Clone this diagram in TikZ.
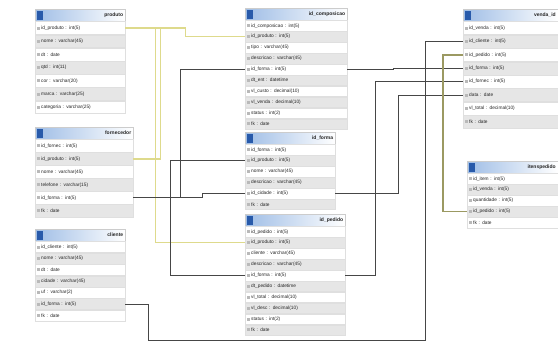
\documentclass[tikz,border=0pt]{standalone}
\usepackage{fontspec}
\setsansfont{Liberation Sans}
\usepackage{tikz}
\usetikzlibrary{positioning,calc}

\definecolor{headblue}{RGB}{160,190,230}
\definecolor{iconblue}{RGB}{40,90,170}
\definecolor{rowgray}{RGB}{230,230,230}
\definecolor{fkolive}{RGB}{222,218,140}
\definecolor{fkdark}{RGB}{70,70,70}

% table: name, x, y, width, row height, title, fields
\newcommand{\dbtable}[7]{%
  \pgfmathsetmacro{\tw}{#4-4}
  \node[tabhead, text width=\tw pt, anchor=north west] (#1) at (#2,#3) {#6};
  \foreach \fld [count=\i] in {#7} {
    \pgfmathtruncatemacro{\prv}{\i-1}
    \ifnum\i=1 \def\prevrow{#1}\else\edef\prevrow{#1-\prv}\fi
    \ifodd\i \def\rowfill{white}\else\def\rowfill{rowgray}\fi
    \node[tabrow, text width=\tw pt, minimum height=#5pt, fill=\rowfill, below=0pt of \prevrow] (#1-\i) {\hspace*{4pt}\fld};
  }
}

\begin{document}
\begin{tikzpicture}[x=1pt, y=-1pt,
    tabhead/.style={rectangle, draw=gray!40, left color=headblue, right color=white, align=right,
        font=\sffamily\bfseries\fontsize{5}{6}\selectfont, text=black!85, minimum height=12pt,
        inner xsep=2pt, inner ysep=0pt,
        path picture={\fill[iconblue] ([shift={(1.5pt,-1.5pt)}]path picture bounding box.north west) rectangle ++(6pt,-9pt);}},
    tabrow/.style={rectangle, draw=gray!25, align=left, font=\sffamily\fontsize{4.8}{5.5}\selectfont,
        text=black!85, inner xsep=2pt, inner ysep=0pt,
        path picture={\fill[gray!55] ([xshift=2pt]path picture bounding box.west) ++(0,-1.5pt) rectangle ++(3pt,3pt);}},
    fkline/.style={draw=fkdark, line width=1pt},
    fkyel/.style={draw=fkolive, line width=1.3pt}]

    \useasboundingbox[fill=white] (0,0) rectangle (558,349);
    \clip (0,0) rectangle (558,349);

    % Left column
    \dbtable{prod}{35}{9}{90}{12.8}{produto}{id\_produto : int(5), nome : varchar(45), dt : date, qtd : int(11), cor : varchar(20), marca : varchar(25), categoria : varchar(25)}
    \dbtable{forn}{35}{127}{98}{12.6}{fornecedor}{id\_fornec : int(5), id\_produto : int(5), nome : varchar(45), telefone : varchar(15), id\_forma : int(5), fk : date}
    \dbtable{cli}{35}{229}{90}{11}{cliente}{id\_cliente : int(5), nome : varchar(45), dt : date, cidade : varchar(45), uf : varchar(2), id\_forma : int(5), fk : date}

    % Middle column
    \dbtable{comp}{245}{8}{102}{10.5}{id\_composicao}{id\_composicao : int(5), id\_produto : int(5), tipo : varchar(45), descricao : varchar(45), id\_forma : int(5), dt\_ent : datetime, vl\_custo : decimal(10), vl\_venda : decimal(10), status : int(2), fk : date}
    \dbtable{forma}{245}{132}{90}{10.5}{id\_forma}{id\_forma : int(5), id\_produto : int(5), nome : varchar(45), descricao : varchar(45), id\_cidade : int(5), fk : date}
    \dbtable{ped}{245}{214}{100}{10.5}{id\_pedido}{id\_pedido : int(5), id\_produto : int(5), cliente : varchar(45), descricao : varchar(45), id\_forma : int(5), dt\_pedido : datetime, vl\_total : decimal(10), vl\_desc : decimal(10), status : int(2), fk : date}

    % Right column
    \dbtable{venda}{463}{9}{94.5}{13}{venda\_id}{id\_venda : int(5), id\_cliente : int(5), id\_pedido : int(5), id\_forma : int(5), id\_fornec : int(5), data : date, vl\_total : decimal(10), fk : date}
    \dbtable{item}{467}{161}{90.5}{10.5}{itenspedido}{id\_item : int(5), id\_venda : int(5), quantidade : int(5), id\_pedido : int(5), fk : date}

    % Connectors
    \draw[fkyel] (prod-1.east) -- ++(60,0) |- (comp-2.west);
    \draw[fkyel] (prod-1.east) -- ++(30,0) |- (ped-2.west);
    \draw[fkyel] (prod-1.east) -- ++(35,0) |- (forn-2.east);
    \draw[fkline] (forma-2.west) -- ++(-75,0) |- (ped-5.west);
    \draw[fkline] (forn-5.east) -- ++(47,0) |- (comp-5.west);
    \draw[fkline] (forn-5.east) -- ++(69,0) |- (forma-5.west);
    \draw[fkline] (forn-5.east) -- ++(37,0) |- (ped-5.west);
    \draw[fkline] (comp-5.east) -- ++(46,0) |- (venda-4.west);
    \draw[fkline] (ped-5.east) -- ++(30,0) |- (venda-5.west);
    \draw[fkline] (forma-5.east) -- ++(63,0) |- (venda-6.west);
    \draw[fkline] (cli-6.east) -- ++(23,0) |- (425,340) |- (venda-2.west);
    \draw[fkyel, draw=fkolive!70!black] (venda-3.west) -- ++(-20,0) |- (item-4.west);

\end{tikzpicture}
\end{document}
